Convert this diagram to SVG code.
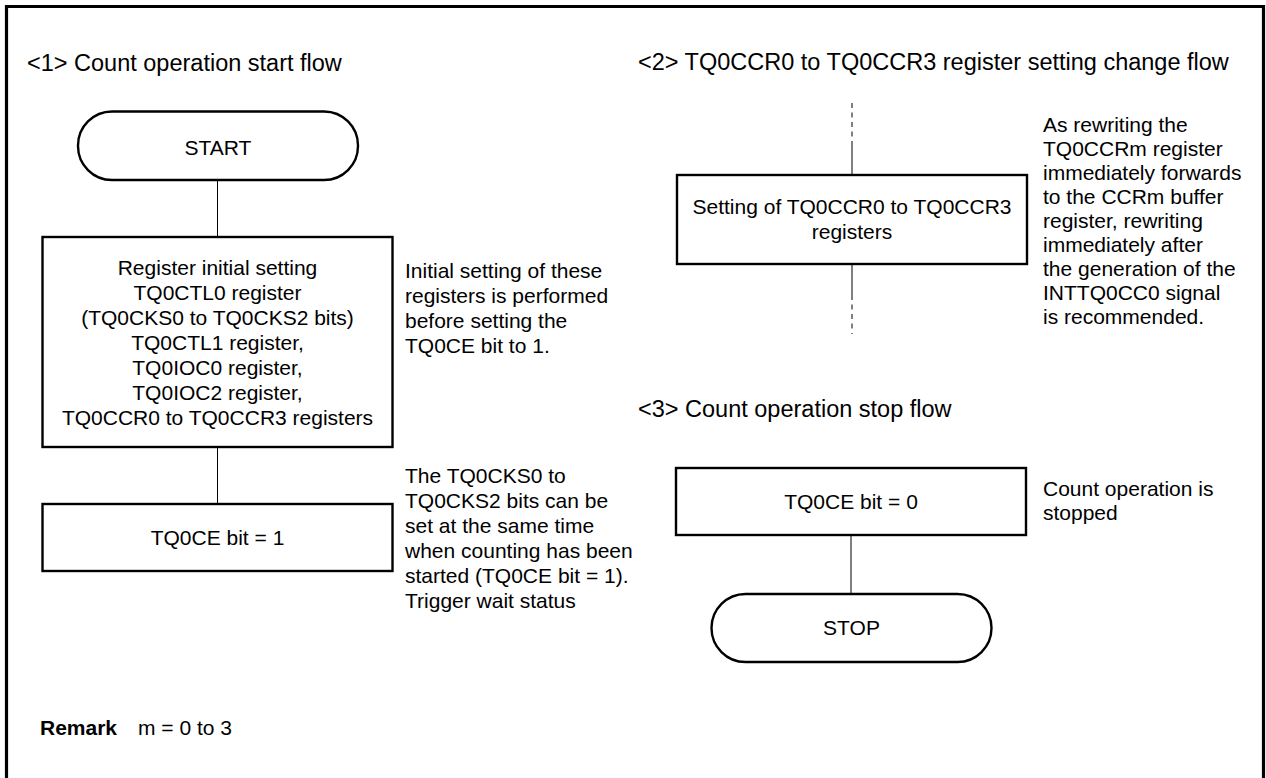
<svg xmlns="http://www.w3.org/2000/svg" width="1266" height="778" viewBox="0 0 1266 778">
<style>
text{font-family:"Liberation Sans",Arial,Helvetica,sans-serif;fill:#000;}
.t{font-size:23.5px;}
.b{font-size:21px;text-anchor:middle;}
.n{font-size:21px;}
.box{fill:#fff;stroke:#000;stroke-width:2.4;}
.ln{stroke:#000;stroke-width:1;fill:none;}
.ds{stroke:#000;stroke-width:1;fill:none;stroke-dasharray:5,4.5;}
</style>
<rect width="1266" height="778" fill="#fff"/>
<path d="M6.5,778 V6.5 H1263.5 V778" fill="none" stroke="#000" stroke-width="3.2"/>
<text class="t" x="27" y="71">&lt;1&gt; Count operation start flow</text>
<text class="t" x="638" y="70">&lt;2&gt; TQ0CCR0 to TQ0CCR3 register setting change flow</text>
<text class="t" x="638" y="417">&lt;3&gt; Count operation stop flow</text>
<g id="connectors">
<line class="ln" x1="217.5" y1="180" x2="217.5" y2="237"/>
<line class="ln" x1="217.5" y1="447" x2="217.5" y2="504"/>
<line class="ds" x1="852" y1="103" x2="852" y2="143"/>
<line class="ln" x1="852" y1="143" x2="852" y2="175"/>
<line class="ln" x1="852" y1="264" x2="852" y2="295"/>
<line class="ds" x1="852" y1="295" x2="852" y2="334"/>
<line class="ln" x1="851" y1="535" x2="851" y2="594"/>
</g>
<g id="start">
<rect class="box" x="78" y="111.5" width="280" height="68.5" rx="34"/>
<text class="b" x="218" y="155">START</text>
</g>
<g id="init">
<rect class="box" x="42.5" y="237" width="350" height="210"/>
<text class="b" x="217.5" y="275">Register initial setting</text>
<text class="b" x="217.5" y="300">TQ0CTL0 register</text>
<text class="b" x="217.5" y="325">(TQ0CKS0 to TQ0CKS2 bits)</text>
<text class="b" x="217.5" y="350">TQ0CTL1 register,</text>
<text class="b" x="217.5" y="375">TQ0IOC0 register,</text>
<text class="b" x="217.5" y="400">TQ0IOC2 register,</text>
<text class="b" x="217.5" y="425">TQ0CCR0 to TQ0CCR3 registers</text>
</g>
<g id="note1">
<text class="n" x="405" y="278">Initial setting of these</text>
<text class="n" x="405" y="303">registers is performed</text>
<text class="n" x="405" y="328">before setting the</text>
<text class="n" x="405" y="353">TQ0CE bit to 1.</text>
</g>
<g id="ce1">
<rect class="box" x="42.5" y="504" width="350" height="67"/>
<text class="b" x="217.5" y="545">TQ0CE bit = 1</text>
</g>
<g id="note2">
<text class="n" x="405" y="483">The TQ0CKS0 to</text>
<text class="n" x="405" y="508">TQ0CKS2 bits can be</text>
<text class="n" x="405" y="533">set at the same time</text>
<text class="n" x="405" y="558">when counting has been</text>
<text class="n" x="405" y="583">started (TQ0CE bit = 1).</text>
<text class="n" x="405" y="608">Trigger wait status</text>
</g>
<g id="ccr">
<rect class="box" x="677" y="175" width="350" height="89"/>
<text class="b" x="852" y="214">Setting of TQ0CCR0 to TQ0CCR3</text>
<text class="b" x="852" y="239">registers</text>
</g>
<g id="note3">
<text class="n" x="1043" y="132">As rewriting the</text>
<text class="n" x="1043" y="156">TQ0CCRm register</text>
<text class="n" x="1043" y="180">immediately forwards</text>
<text class="n" x="1043" y="204">to the CCRm buffer</text>
<text class="n" x="1043" y="228">register, rewriting</text>
<text class="n" x="1043" y="252">immediately after</text>
<text class="n" x="1043" y="276">the generation of the</text>
<text class="n" x="1043" y="300">INTTQ0CC0 signal</text>
<text class="n" x="1043" y="324">is recommended.</text>
</g>
<g id="ce0">
<rect class="box" x="676" y="468" width="350" height="67"/>
<text class="b" x="851" y="509">TQ0CE bit = 0</text>
</g>
<g id="note4">
<text class="n" x="1043" y="496">Count operation is</text>
<text class="n" x="1043" y="520">stopped</text>
</g>
<g id="stop">
<rect class="box" x="711.5" y="594" width="280" height="68" rx="34"/>
<text class="b" x="851.5" y="635">STOP</text>
</g>
<g id="remark">
<text x="40" y="735" style="font-size:21px;font-weight:bold">Remark</text>
<text x="138" y="735" style="font-size:21px">m = 0 to 3</text>
</g>
</svg>
